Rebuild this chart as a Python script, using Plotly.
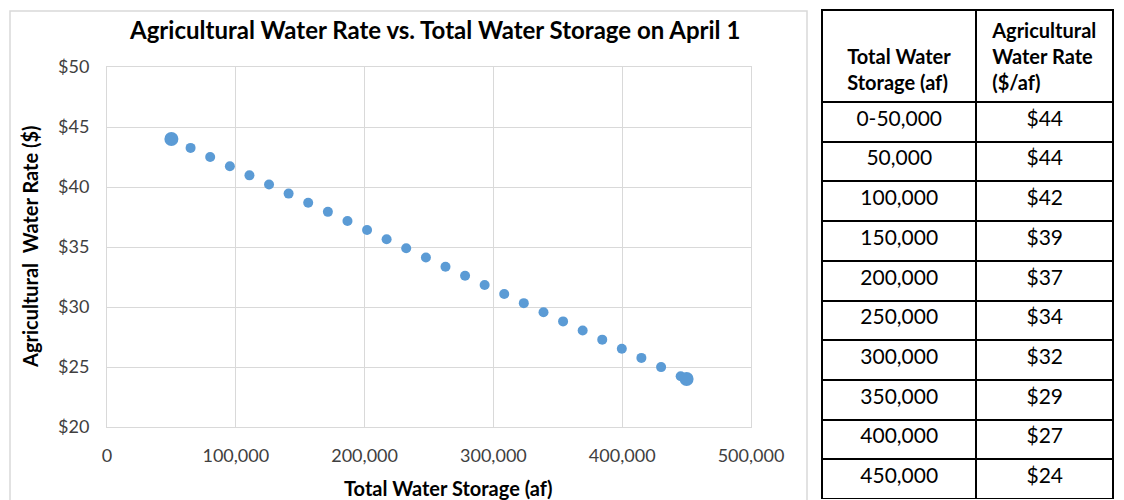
import plotly.graph_objects as go

# ---- data ----
storage_small = [64900, 80100, 95400, 110600, 125800, 141000, 156200, 171500, 186700,
                 201900, 217100, 232300, 247600, 262800, 278000, 293200, 308400, 323600,
                 338900, 354100, 369300, 384500, 399700, 414900, 430200, 445400]
rate_small = [43.26, 42.50, 41.73, 40.97, 40.21, 39.45, 38.69, 37.93, 37.17,
              36.41, 35.65, 34.89, 34.12, 33.36, 32.60, 31.84, 31.08, 30.32,
              29.56, 28.80, 28.04, 27.28, 26.52, 25.76, 24.99, 24.23]
storage_end = [50000, 450000]
rate_end = [44, 24]

table_storage = ["0-50,000", "50,000", "100,000", "150,000", "200,000", "250,000",
                 "300,000", "350,000", "400,000", "450,000"]
table_rate = ["$44", "$44", "$42", "$39", "$37", "$34", "$32", "$29", "$27", "$24"]
table_headers = ["<b>&#160;<br>Total Water<br>Storage (af)</b>", "<b>Agricultural<br>Water Rate<br>($/af)</b>"]

# page body has an 8px margin; figure sized so it fits the 1124x500 window
OFF = 8
W, H = 1124 - OFF, 500 - OFF
FONT = "Lato"
BLUE = "#5B9BD5"
GRID = "#D9D9D9"
TXT = "#404040"

def px(x):
    return (x - OFF) / W

def py(y):
    return 1 - (y - OFF) / H

fig = go.Figure()
fig.add_trace(go.Scatter(x=storage_small, y=rate_small, mode="markers",
                         marker=dict(color=BLUE, size=10), showlegend=False, hoverinfo="x+y"))
fig.add_trace(go.Scatter(x=storage_end, y=rate_end, mode="markers",
                         marker=dict(color=BLUE, size=14), showlegend=False, hoverinfo="x+y"))

fig.add_trace(go.Table(
    domain=dict(x=[px(822), px(1114)], y=[py(499), py(10)]),
    columnwidth=[155, 137],
    header=dict(values=table_headers, height=88, align="center",
                line=dict(color="black", width=2), fill=dict(color="white"),
                font=dict(family=FONT, size=20, color="black")),
    cells=dict(values=[table_storage, table_rate], height=39.7, align="center",
               line=dict(color="black", width=2), fill=dict(color="white"),
               font=dict(family=FONT, size=21, color="black")),
))

fig.update_layout(
    width=W, height=H,
    margin=dict(l=0, r=0, t=0, b=0, pad=0, autoexpand=False),
    paper_bgcolor="white", plot_bgcolor="white",
    font=dict(family=FONT, color=TXT),
    xaxis=dict(domain=[px(107), px(751)], range=[0, 500000], tickvals=[0, 100000, 200000, 300000, 400000, 500000],
               tickformat=",", showgrid=True, gridcolor=GRID, gridwidth=1, automargin=False,
               showline=True, linecolor=GRID, mirror=True, zeroline=False,
               ticks="", ticklabelstandoff=12, tickfont=dict(size=18, color=TXT, family=FONT),
               fixedrange=True),
    yaxis=dict(domain=[py(427), py(67)], range=[20, 50], dtick=5, tickprefix="$",
               showgrid=True, gridcolor=GRID, gridwidth=1, automargin=False,
               showline=True, linecolor=GRID, mirror=True, zeroline=False,
               ticks="", ticklabelstandoff=13, tickfont=dict(size=18, color=TXT, family=FONT),
               fixedrange=True),
    shapes=[dict(type="rect", xref="paper", yref="paper", x0=px(10), x1=px(807), y0=py(11), y1=-0.05,
                 line=dict(color=GRID, width=1.5), fillcolor="rgba(0,0,0,0)", layer="below")],
    annotations=[
        dict(text="<b>Agricultural Water Rate vs. Total Water Storage on April 1</b>", xref="paper", yref="paper",
             x=px(434), y=py(30), showarrow=False, xanchor="center", yanchor="middle",
             font=dict(size=24, color="black", family=FONT)),
        dict(text="<b>Total Water Storage (af)</b>", xref="paper", yref="paper",
             x=px(448), y=py(488), showarrow=False, xanchor="center", yanchor="middle",
             font=dict(size=20, color="black", family=FONT)),
        dict(text="<b>Agricultural  Water Rate ($)</b>", xref="paper", yref="paper",
             x=px(30), y=py(247), showarrow=False, xanchor="center", yanchor="middle", textangle=-90,
             font=dict(size=20, color="black", family=FONT)),
    ],
)

fig.write_html("out.html")
